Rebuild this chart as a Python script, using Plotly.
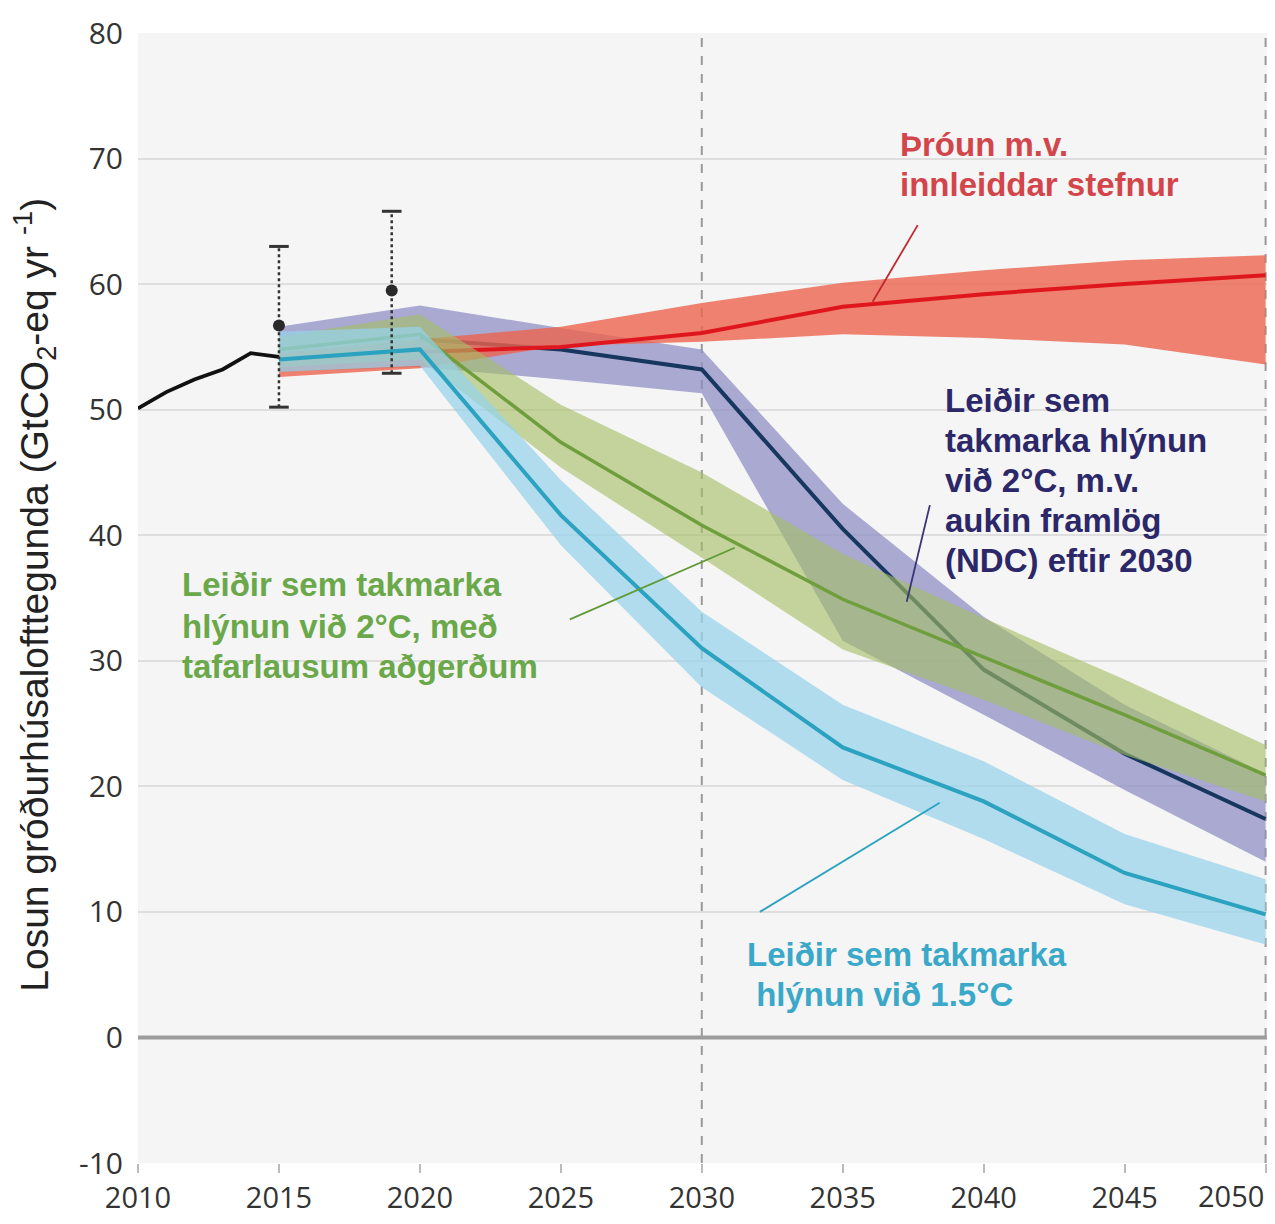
import plotly.graph_objects as go

# ---------------- data ----------------
hist_years = [2010, 2011, 2012, 2013, 2014, 2015]
hist_vals = [50.1, 51.4, 52.4, 53.2, 54.5, 54.2]

err_years = [2015, 2019]
err_mid = [56.7, 59.5]
err_low = [50.2, 52.9]
err_high = [63.0, 65.8]

years = [2015, 2020, 2025, 2030, 2035, 2040, 2045, 2050]

# current policies (red)
red_line_years = [2020, 2025, 2030, 2035, 2040, 2045, 2050]
red_line = [54.6, 55.0, 56.1, 58.2, 59.2, 60.0, 60.7]
red_hi = [54.5, 55.6, 56.6, 58.5, 60.1, 61.1, 61.9, 62.3]
red_lo = [52.6, 53.3, 55.1, 55.4, 56.0, 55.7, 55.2, 53.6]

# 2°C with NDC until 2030 (purple)
ndc_line_years = [2020, 2025, 2030, 2035, 2040, 2045, 2050]
ndc_line = [55.6, 54.8, 53.2, 40.5, 29.3, 22.6, 17.4]
ndc_hi = [56.6, 58.3, 56.5, 54.8, 42.5, 33.5, 26.5, 21.0]
ndc_lo = [53.0, 53.4, 52.4, 51.3, 31.6, 25.7, 19.7, 14.0]

# 2°C immediate action (green)
g_line_years = [2015, 2020, 2025, 2030, 2035, 2040, 2045, 2050]
g_line = [54.8, 56.0, 47.4, 40.8, 34.9, 30.3, 25.7, 20.9]
g_hi = [55.8, 57.6, 50.4, 45.0, 38.5, 33.4, 28.5, 23.3]
g_lo = [53.4, 54.0, 45.4, 38.2, 30.9, 26.9, 22.5, 18.8]

# 1.5°C (cyan)
c_line = [54.0, 54.8, 41.6, 31.0, 23.1, 18.8, 13.1, 9.8]
c_hi = [56.2, 56.6, 44.4, 33.9, 26.5, 22.0, 16.2, 12.6]
c_lo = [53.0, 53.5, 39.2, 27.9, 20.5, 15.8, 10.6, 7.4]

y_ticks = [-10, 0, 10, 20, 30, 40, 50, 60, 70, 80]
x_ticks = [2010, 2015, 2020, 2025, 2030, 2035, 2040, 2045, 2050]

red_text = ["Þróun m.v.", "innleiddar stefnur"]
ndc_text = ["Leiðir sem", "takmarka hlýnun", "við 2°C, m.v.", "aukin framlög", "(NDC) eftir 2030"]
green_text = ["Leiðir sem takmarka", "hlýnun við 2°C, með", "tafarlausum aðgerðum"]
cyan_text = ["Leiðir sem takmarka", " hlýnun við 1.5°C"]

# ---------------- figure ----------------
fig = go.Figure()


def band(xs, hi, lo, color):
    fig.add_trace(go.Scatter(x=xs + xs[::-1], y=hi + lo[::-1], fill="toself",
                             fillcolor=color, line=dict(width=0), mode="lines",
                             hoverinfo="skip", showlegend=False))


def line(xs, ys, color, width=3.5):
    fig.add_trace(go.Scatter(x=xs, y=ys, mode="lines",
                             line=dict(color=color, width=width),
                             showlegend=False))


band(years, ndc_hi, ndc_lo, "rgba(140,140,195,0.72)")
line(ndc_line_years, ndc_line, "#17375f", 4)
band(years, red_hi, red_lo, "rgba(236,100,78,0.8)")
line(red_line_years, red_line, "#e0161e", 4)
band(years, g_hi, g_lo, "rgba(165,190,100,0.62)")
line(g_line_years, g_line, "#6f9e3d", 3.5)
band(years, c_hi, c_lo, "rgba(150,210,235,0.72)")
line(years, c_line, "#2ba2bf", 4)

# historical
line(hist_years, hist_vals, "#111111", 3.8)

# error bars (dotted)
for yr, lo, hi in zip(err_years, err_low, err_high):
    fig.add_trace(go.Scatter(x=[yr, yr], y=[lo, hi], mode="lines",
                             line=dict(color="#333333", width=2.5, dash="dot"),
                             showlegend=False))
fig.add_trace(go.Scatter(x=err_years * 2, y=err_low + err_high, mode="markers",
                         marker=dict(symbol="line-ew-open", size=14, color="#333333",
                                     line=dict(color="#333333", width=3)),
                         showlegend=False))
fig.add_trace(go.Scatter(x=err_years, y=err_mid, mode="markers",
                         marker=dict(symbol="circle", size=12, color="#2a2a2a"),
                         showlegend=False))

# vertical dashed lines at 2030 and 2050
shapes = []
for xv in [2030, 2050]:
    shapes.append(dict(type="line", xref="x", yref="paper", x0=xv, x1=xv, y0=0, y1=1,
                       line=dict(color="#9a9a9a", width=2, dash="dash"), layer="below"))
# zero line
shapes.append(dict(type="line", xref="paper", yref="y", x0=0, x1=1, y0=0, y1=0,
                   line=dict(color="#9c9c9c", width=4), layer="above"))

# pointer lines
pointers = [
    ((2037.66, 64.7), (2036.06, 58.6), "#c0282e"),
    ((2038.09, 42.4), (2037.27, 34.7), "#3a3575"),
    ((2025.32, 33.3), (2031.17, 39.0), "#5f9a35"),
    ((2032.06, 10.0), (2038.44, 18.7), "#2ba2bf"),
]
for (x0, y0), (x1, y1), col in pointers:
    shapes.append(dict(type="line", xref="x", yref="y", x0=x0, y0=y0, x1=x1, y1=y1,
                       line=dict(color=col, width=1.8)))

annotations = []
FONT = "Liberation Sans, Arial, sans-serif"
TICKFONT = dict(family="Open Sans, sans-serif", size=30, color="#333333")
XTICKFONT = dict(family="Open Sans, sans-serif", size=29, color="#333333")


def text_block(lines, x, ys, color):
    for t, yy in zip(lines, ys):
        annotations.append(dict(x=x, y=yy, xref="x", yref="y", text="<b>" + t + "</b>",
                                showarrow=False, xanchor="left", yanchor="middle",
                                xshift=-2, font=dict(family=FONT, size=33, color=color)))


text_block(red_text, 2037.02, [71.1, 67.9], "#d2464b")
text_block(ndc_text, 2038.62, [50.72, 47.53, 44.35, 41.16, 37.98], "#2c2768")
text_block(green_text, 2011.56, [36.07, 32.72, 29.54], "#6aa84a")
text_block(cyan_text, 2031.6, [6.61, 3.42], "#3aa8c8")

annotations.append(dict(
    x=-0.092, y=0.503, xref="paper", yref="paper", textangle=-90,
    text="Losun gróðurhúsalofttegunda (GtCO<sub>2</sub>-eq yr <sup>-1</sup>)",
    showarrow=False, xanchor="center", yanchor="middle",
    font=dict(family="Liberation Sans, Arial", size=39, color="#222222")))

# last x tick label right-aligned to the plot edge
annotations.append(dict(x=1.0, y=-0.0285, xref="paper", yref="paper", text=str(x_ticks[-1]),
                        showarrow=False, xanchor="right", yanchor="middle", xshift=-1,
                        font=XTICKFONT))

fig.update_layout(
    width=1259, height=1208,
    margin=dict(l=130, r=0, t=25, b=53, autoexpand=False),
    paper_bgcolor="white", plot_bgcolor="#f5f5f5",
    showlegend=False,
    shapes=shapes, annotations=annotations,
    xaxis=dict(range=[2010, 2050.05], tickvals=x_ticks, automargin=False,
               ticktext=[str(v) for v in x_ticks[:-1]] + [""],
               showgrid=False, zeroline=False, ticks="outside", ticklen=9, tickwidth=1.5,
               tickcolor="#bbbbbb", showline=False, tickfont=XTICKFONT),
    yaxis=dict(range=[-10, 80], tickvals=y_ticks, ticktext=[str(v) for v in y_ticks],
               automargin=False,
               showgrid=True, gridcolor="#dedede", gridwidth=2, zeroline=False,
               showline=False, ticks="", ticklabelstandoff=14, tickfont=TICKFONT),
)

fig.write_html("out.html")
